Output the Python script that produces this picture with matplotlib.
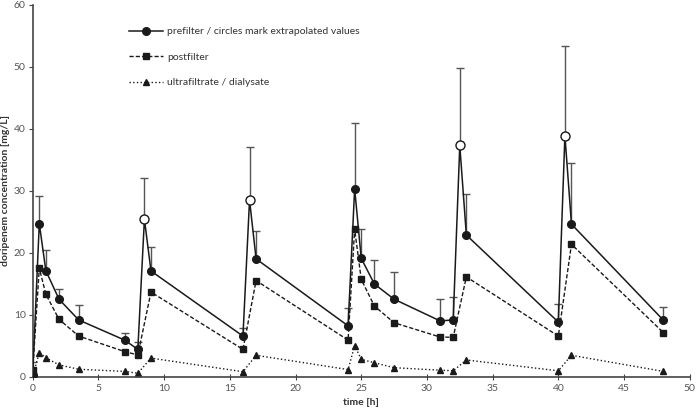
import numpy as np
import matplotlib.pyplot as plt

plt.rcParams['font.family'] = ['Lato', 'DejaVu Sans']

# time points [h]
t_pre = [0, 0.5, 1, 2, 3.5, 7, 8, 8.5, 9, 16, 16.5, 17, 24, 24.5, 25, 26, 27.5,
         31, 32, 32.5, 33, 40, 40.5, 41, 48]
pre = [0.3, 24.7, 17.1, 12.5, 9.15, 5.9, 4.4, 25.4, 17.05, 6.55, 28.5, 19.0, 8.2,
       30.3, 19.1, 14.95, 12.5, 9.0, 9.15, 37.3, 22.85, 8.8, 38.9, 24.6, 9.1]
pre_upper = [2.4, 29.2, 20.4, 14.1, 11.5, 7.1, 5.6, 32.1, 20.9, 7.9, 37.1, 23.5, 11.0,
             40.9, 23.9, 18.9, 16.9, 12.6, 12.8, 49.8, 29.4, 11.7, 53.4, 34.5, 11.3]
extrapolated_t = [8.5, 16.5, 32.5, 40.5]

t_post = [0, 0.5, 1, 2, 3.5, 7, 8, 9, 16, 17, 24, 24.5, 25, 26, 27.5, 31, 32, 33, 40, 41, 48]
post = [1.0, 17.5, 13.3, 9.25, 6.55, 4.05, 3.5, 13.65, 4.4, 15.5, 5.9, 23.8, 15.7,
        11.4, 8.7, 6.4, 6.35, 16.1, 6.55, 21.35, 7.1]
uf = [0.0, 3.9, 3.05, 1.9, 1.2, 0.85, 0.55, 3.0, 0.8, 3.45, 1.15, 5.0, 2.8,
      2.25, 1.45, 1.05, 0.95, 2.7, 0.95, 3.45, 0.85]

line_c = '#1a1a1a'
err_c = '#555555'

fig = plt.figure(figsize=(6.96, 4.09), dpi=100)
ax = fig.add_axes([0.047, 0.079, 0.944, 0.9095])

pre = np.array(pre)
yerr_up = np.array(pre_upper) - pre
ax.errorbar(t_pre, pre, yerr=[np.zeros_like(pre), yerr_up], fmt='none',
            ecolor=err_c, elinewidth=1.0, capsize=3, capthick=1.0, zorder=1)

ax.plot(t_pre, pre, '-', color=line_c, lw=1.1, marker='o', ms=5.5,
        mfc=line_c, mec=line_c, zorder=3,
        label='prefilter / circles mark extrapolated values')
ext_y = [pre[t_pre.index(t)] for t in extrapolated_t]
ax.plot(extrapolated_t, ext_y, 'o', ms=6.5, mfc='white', mec=line_c, mew=1.0, zorder=4)

ax.plot(t_post, post, '--', color=line_c, lw=1.0, marker='s', ms=5,
        mfc=line_c, mec=line_c, dashes=(3, 1.5), zorder=2, label='postfilter')
ax.plot(t_post, uf, ':', color=line_c, lw=1.0, marker='^', ms=5,
        mfc=line_c, mec=line_c, zorder=2, label='ultrafiltrate / dialysate')

ax.set_xlim(0, 50)
ax.set_ylim(0, 60)
ax.set_xticks(np.arange(0, 51, 5))
ax.set_yticks(np.arange(0, 61, 10))
for s in ['top', 'right']:
    ax.spines[s].set_visible(False)
for s in ['left', 'bottom']:
    ax.spines[s].set_color('#444444')
    ax.spines[s].set_linewidth(1.2)
ax.tick_params(axis='both', labelsize=7.5, colors='#444444', labelcolor='#555555',
               length=3, width=0.8, pad=2)
ax.tick_params(axis='x', direction='inout', length=4, pad=3)

ax.set_xlabel('time [h]', fontsize=7.5, fontweight='bold', color='#333333', labelpad=4)
ax.set_ylabel('doripenem concentration [mg/L]', fontsize=7.5, fontweight='bold',
              color='#333333', labelpad=3)

leg = ax.legend(loc='upper left', bbox_to_anchor=(0.133, 0.965), frameon=False,
                fontsize=7.5, handlelength=3.2, handletextpad=0.4, labelspacing=1.55)
for txt in leg.get_texts():
    txt.set_color('#333333')

fig.savefig('out.png', dpi=100)
